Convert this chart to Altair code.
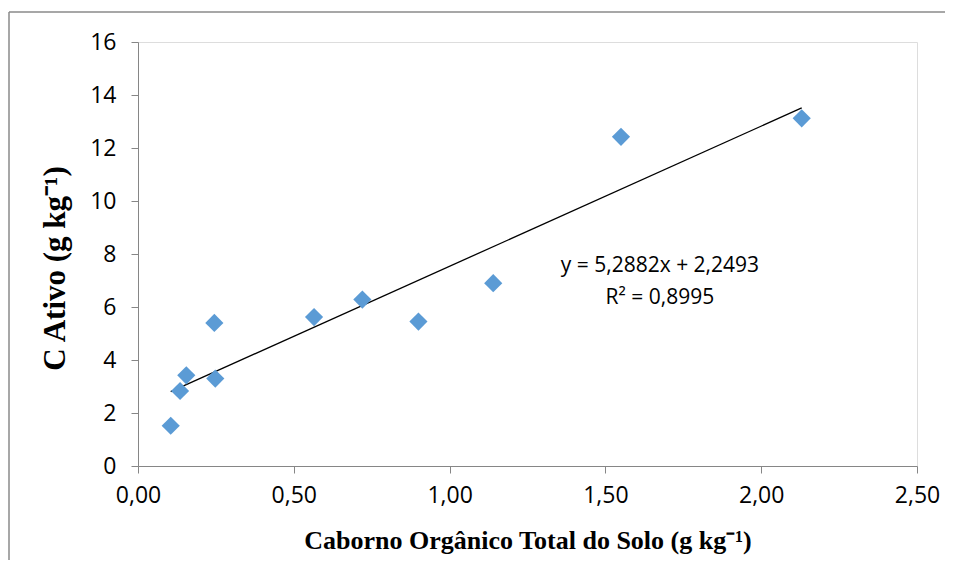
import altair as alt
import pandas as pd

# data
cot = [0.105, 0.135, 0.155, 0.248, 0.245, 0.565, 0.72, 0.90, 1.14, 1.55, 2.13]
c_ativo = [1.52, 2.83, 3.42, 3.30, 5.40, 5.62, 6.28, 5.45, 6.90, 12.42, 13.12]

slope = 5.2882
intercept = 2.2493
eq_lines = ["y = 5,2882x + 2,2493", "R² = 0,8995"]
x_ticks = [0, 0.5, 1.0, 1.5, 2.0, 2.5]
y_ticks = [0, 2, 4, 6, 8, 10, 12, 14, 16]

W, H = 779, 424

pts = pd.DataFrame({"x": cot, "y": c_ativo})
xmin, xmax = min(cot), max(cot)
trend = pd.DataFrame({"x": [xmin, xmax],
                      "y": [slope * xmin + intercept, slope * xmax + intercept]})
eq = pd.DataFrame({"x": [1.675, 1.675], "y": [7.55, 6.35], "t": eq_lines})

xscale = alt.Scale(domain=[0, 2.5], nice=False, zero=False)
yscale = alt.Scale(domain=[0, 16], nice=False)

xaxis = alt.Axis(values=x_ticks, labelExpr="replace(format(datum.value, '.2f'), '.', ',')",
                 title="Caborno Orgânico Total do Solo (g kg⁻¹)", grid=False,
                 domainColor="#868686", tickColor="#868686", tickSize=7,
                 labelFont="Open Sans", labelFontSize=23, labelColor="#000000",
                 labelFlush=False, labelPadding=11,
                 titleFont="Liberation Serif", titleFontSize=26,
                 titleFontWeight="bold", titleColor="#000000", titlePadding=20)
yaxis = alt.Axis(values=y_ticks, format="d", title="C Ativo (g kg⁻¹)", grid=False,
                 domainColor="#868686", tickColor="#868686", tickSize=7,
                 labelFont="Open Sans", labelFontSize=23, labelColor="#000000",
                 labelFlush=False, labelPadding=15,
                 titleFont="Liberation Serif", titleFontSize=31,
                 titleFontWeight="bold", titleColor="#000000", titlePadding=18,
                 titleY=226)

points = alt.Chart(pts).mark_point(shape="diamond", filled=True, size=330,
                                   color="#5B9BD5", opacity=1).encode(
    x=alt.X("x:Q", scale=xscale, axis=xaxis),
    y=alt.Y("y:Q", scale=yscale, axis=yaxis),
)

line = alt.Chart(trend).mark_line(color="#000000", strokeWidth=1.3).encode(
    x=alt.X("x:Q", scale=xscale), y=alt.Y("y:Q", scale=yscale))

text = alt.Chart(eq).mark_text(font="Open Sans", fontSize=21, color="#000000",
                               align="center", baseline="middle").encode(
    x=alt.X("x:Q", scale=xscale), y=alt.Y("y:Q", scale=yscale), text="t:N")

frame_top = alt.Chart(pd.DataFrame({"a": [0]})).mark_rule(color="#8a8a8a", strokeWidth=1.5).encode(
    x=alt.value(-129), x2=alt.value(W + 40), y=alt.value(-30))
frame_left = alt.Chart(pd.DataFrame({"a": [0]})).mark_rule(color="#8a8a8a", strokeWidth=1.5).encode(
    x=alt.value(-129), y=alt.value(-30), y2=alt.value(H + 110))

chart = alt.layer(frame_top, frame_left, line, points, text).properties(
    width=W, height=H,
    autosize=alt.AutoSizeParams(type="none"),
    padding={"left": 130, "top": 34, "right": 28, "bottom": 94},
).configure_view(stroke=None).configure(background="white")

chart.save("out.html", embed_options={"renderer": "svg", "actions": False})
